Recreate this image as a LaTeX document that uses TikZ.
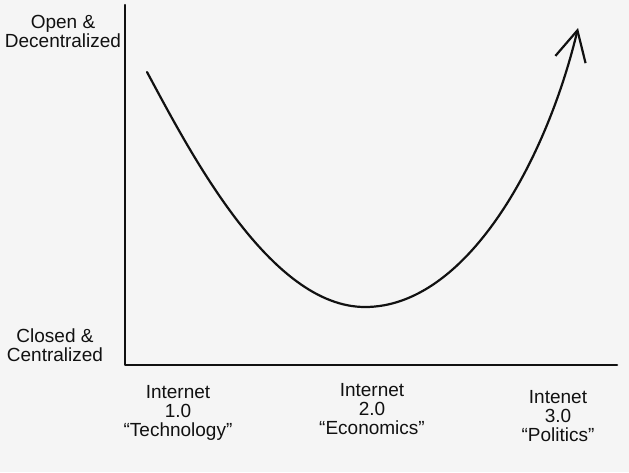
\documentclass[tikz,border=0pt]{standalone}
\usepackage{fontspec}
\setmainfont{Liberation Sans}
\usepackage{xcolor}
\usetikzlibrary{arrows.meta,positioning}
\definecolor{paperc}{HTML}{F5F5F5}
\definecolor{inkc}{HTML}{111111}
\tikzset{
  axis/.style={inkc,line width=2.5pt,line cap=round,line join=round},
  trend/.style={inkc,line width=2.2pt,line cap=round,-{Straight Barb[length=30pt,width=31pt,line width=2.2pt]}},
  lbl/.style={inkc,align=center,inner sep=0pt,font=\fontsize{19}{19}\selectfont}
}
\begin{document}
\begin{tikzpicture}[x=1pt,y=-1pt]
\fill[paperc] (0,0) rectangle (629,472);
\useasboundingbox (0,0) rectangle (629,472);
% axes
\coordinate (ytop) at (125,5);
\coordinate (orig) at (125,365);
\coordinate (xend) at (617,365);
\draw[axis] (ytop) -- (orig) -- (xend);
% axis labels
\node[lbl] (open) at (63,31) {Open \&\\Decentralized};
\node[lbl] (closed) at (55,345) {Closed \&\\Centralized};
\node[lbl] (inet1) at (178,413) {Internet\\1.0\\``Technology''};
\node[lbl] (inet2) at (372,409) {Internet\\2.0\\``Economics''};
\node[lbl] (inet3) at (558,416) {Intenet\\3.0\\``Politics''};
% the curve
\coordinate (start) at (147,72);
\coordinate (low) at (365,307);
\coordinate (tip) at (578,28);
\draw[trend] (start) .. controls (190,152) and (270,307) .. (low)
  .. controls (466,307) and (546,162) .. (tip);
\end{tikzpicture}
\end{document}
